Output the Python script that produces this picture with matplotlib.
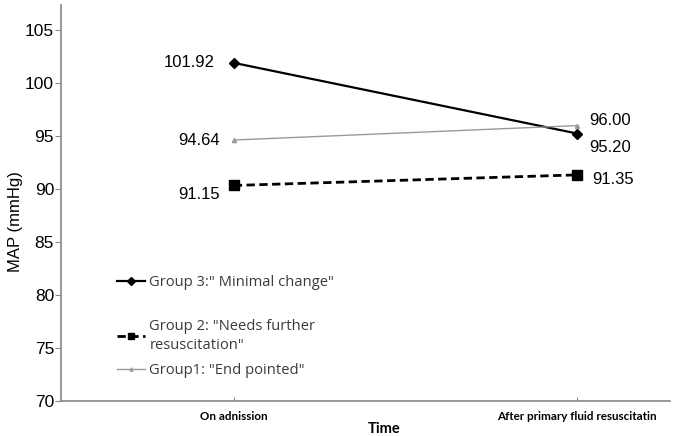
import matplotlib.pyplot as plt

tiempos = ["On adnission", "After primary fluid resuscitatin"]
grupo3 = [101.92, 95.25]
grupo2 = [90.35, 91.35]
grupo1 = [94.64, 96.00]
# valores impresos junto a los puntos
txt3 = ["101.92", "95.20"]
txt2 = ["91.15", "91.35"]
txt1 = ["94.64", "96.00"]
lbl3 = 'Group 3:" Minimal change"'
lbl2 = 'Group 2: "Needs further\nresuscitation"'
lbl1 = 'Group1: "End pointed"'

plt.rcParams['font.family'] = ['Liberation Sans', 'DejaVu Sans']

fig = plt.figure(figsize=(6.79, 4.36), dpi=100)
ax = fig.add_axes([0.0898, 0.080, 0.897, 0.909])

xs = list(range(len(tiempos)))
l3, = ax.plot(xs, grupo3, color='black', lw=1.6, marker='D', ms=5.5, label=lbl3)
l2, = ax.plot(xs, grupo2, color='black', lw=2.0, ls=(0, (3, 1.6)), marker='s', ms=6.5, label=lbl2)
l1, = ax.plot(xs, grupo1, color='#9a9a9a', lw=1.0, marker='^', ms=3, label=lbl1)

# etiquetas de valores
def eti(x, y, txt, dx, dy, ha):
    ax.annotate(txt, (x, y), xytext=(dx, dy), textcoords='offset points',
                ha=ha, va='center', fontsize=12)

eti(0, grupo3[0], txt3[0], -13.7, 0.5, 'right')
eti(0, grupo1[0], txt1[0], -10, 0, 'right')
eti(0, grupo2[0], txt2[0], -10, -6.5, 'right')
eti(1, grupo1[1], txt1[1], 8.6, 3.6, 'left')
eti(1, grupo3[1], txt3[1], 8.6, -10, 'left')
eti(1, grupo2[1], txt2[1], 10.8, -3.6, 'left')

ax.set_xlim(-0.503, 1.27)
ax.set_ylim(70, 107.4)
ax.set_yticks(range(70, 106, 5))
ax.set_xticks(xs)
ax.set_xticklabels(tiempos, fontsize=8.4, fontweight='bold', family=['Lato', 'DejaVu Sans'])
ax.tick_params(axis='y', labelsize=12.5, length=4, color='#888888', pad=1)
ax.tick_params(axis='x', direction='in', length=3, color='#888888', pad=7)
ax.set_ylabel("MAP (mmHg)", fontsize=12)
ax.yaxis.set_label_coords(-0.062, 0.452)
ax.set_xlabel("Time", fontsize=10.5, fontweight='bold', family=['Lato', 'DejaVu Sans'])
ax.xaxis.set_label_coords(0.53, -0.052)

for s in ['top', 'right']:
    ax.spines[s].set_visible(False)
for s in ['left', 'bottom']:
    ax.spines[s].set_color('#888888')
    ax.spines[s].set_linewidth(1.2)

prop = {'family': ['Open Sans', 'DejaVu Sans'], 'size': 10.6}
kw = dict(frameon=False, prop=prop, handlelength=1.9, handletextpad=0.3,
          labelcolor='#3a3a3a', borderpad=0, borderaxespad=0, markerscale=0.75)
leg1 = ax.legend(handles=[l3], loc='center left', bbox_to_anchor=(0.092, 0.300), **kw)
ax.add_artist(leg1)
leg2 = ax.legend(handles=[l2, l1], loc='upper left', bbox_to_anchor=(0.092, 0.208),
                 labelspacing=0.65, **kw)
leg2.get_texts()[0].set_linespacing(1.4)

fig.savefig("out.png", dpi=100)
